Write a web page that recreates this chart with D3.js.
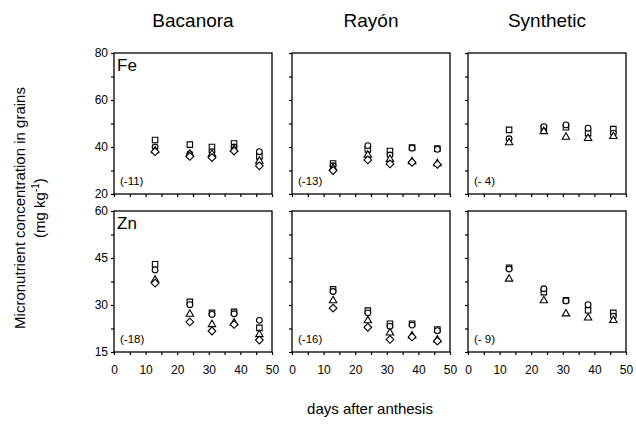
<!doctype html>
<html lang="en">
<head>
<meta charset="utf-8">
<title>Micronutrient concentration in grains</title>
<script src="https://cdn.jsdelivr.net/npm/d3@7"></script>
<style>
  body { margin: 0; background: #fff; }
  text { font-family: Arial, "Liberation Sans", sans-serif; fill: #000; }
</style>
</head>
<body>
<div id="chart"></div>
<script>
// days after anthesis
var days = [13, 24, 31, 38, 46];
var cultivars = ["Bacanora", "Rayón", "Synthetic"];
var nutrients = ["Fe", "Zn"];
var shapes = ["square", "circle", "triangle", "diamond"];

// Fe (mg kg-1), one array per marker
var feBacanora = [[43, 41, 40, 41.5, 36], [40, 37, 38, 40, 38], [38.5, 37, 37, 39, 34], [38, 36, 35.5, 38.3, 32]];
var feRayon = [[33, 39, 38.3, 39.8, 39.3], [32, 40.6, 36.6, 39.5, 39], [31, 36.6, 34.8, 33.8, 33], [30, 34.5, 32.8, 33.5, 32.6]];
var feSynthetic = [[47.3, 48, 48.4, 45.9, 47.6], [43.5, 48.7, 49.4, 48, 45.9], [41.9, 46.6, 44.2, 43.7, 44.5]];
// Zn (mg kg-1)
var znBacanora = [[43, 31, 27.5, 27.8, 22.7], [41.2, 30.1, 27, 27.2, 25.1], [38, 27.1, 23.8, 24.3, 20.6], [37, 24.6, 21.7, 23.8, 18.8]];
var znRayon = [[35, 28.2, 24, 24, 22.2], [34.3, 27.5, 23.2, 23.6, 21.8], [31.4, 25, 21.1, 20.2, 18.9], [29, 22.9, 19, 19.8, 18.5]];
var znSynthetic = [[41.9, 34.1, 31.5, 28.3, 27.5], [41.5, 35.2, 31.3, 30.1, 26.4], [38.3, 31.4, 27.2, 25.9, 25.1]];

var notes = [["(-11)", "(-13)", "(- 4)"], ["(-18)", "(-16)", "(- 9)"]];
var panelData = [[feBacanora, feRayon, feSynthetic], [znBacanora, znRayon, znSynthetic]];

var yDomains = [[20, 80], [15, 60]];
var yTicks = [[20, 30, 40, 50, 60, 70, 80], [15, 22.5, 30, 37.5, 45, 52.5, 60]];
var yLabels = [[20, 40, 60, 80], [15, 30, 45, 60]];
var xTicks = [0, 5, 10, 15, 20, 25, 30, 35, 40, 45, 50];
var xLabels = [0, 10, 20, 30, 40, 50];

var W = 636, H = 432;
var lefts = [114, 292, 468], tops = [53, 211];
var pw = 158, ph = 141;

var svg = d3.select("#chart").append("svg")
  .attr("width", W).attr("height", H);

var x = d3.scaleLinear().domain([0, 50]).range([0, pw]);

// diamond a bit wider than d3's own
var rhombus = {
  draw: function(ctx, size) {
    var r = Math.sqrt(size / 2);
    ctx.moveTo(0, -r); ctx.lineTo(r, 0); ctx.lineTo(0, r); ctx.lineTo(-r, 0); ctx.closePath();
  }
};
var symbolFor = {
  square: d3.symbol().type(d3.symbolSquare).size(30)(),
  circle: d3.symbol().type(d3.symbolCircle).size(26)(),
  triangle: d3.symbol().type(d3.symbolTriangle).size(24)(),
  diamond: d3.symbol().type(rhombus).size(30)()
};

nutrients.forEach(function(nut, r) {
  var y = d3.scaleLinear().domain(yDomains[r]).range([ph, 0]);
  cultivars.forEach(function(cv, c) {
    var g = svg.append("g")
      .attr("transform", "translate(" + lefts[c] + "," + tops[r] + ")");

    // axes
    var ya = g.append("g").call(d3.axisLeft(y).tickValues(yTicks[r]).tickSize(3).tickPadding(3)
      .tickFormat(function(v) { return (c === 0 && yLabels[r].indexOf(v) >= 0) ? v : ""; }));
    var xa = g.append("g").attr("transform", "translate(0," + ph + ")")
      .call(d3.axisBottom(x).tickValues(xTicks).tickSize(3).tickPadding(10)
        .tickFormat(function(v) { return (r === 1 && xLabels.indexOf(v) >= 0) ? v : ""; }));
    [ya, xa].forEach(function(a) {
      a.select(".domain").remove();
      a.selectAll("line").attr("stroke", "#000").attr("stroke-width", 1.2);
      a.selectAll("text").style("font-size", "12px").attr("fill", "#000");
    });

    g.append("rect")
      .attr("width", pw).attr("height", ph)
      .attr("fill", "none").attr("stroke", "#000").attr("stroke-width", 1.3);

    if (c === 0) {
      g.append("text").attr("x", 3).attr("y", 18)
        .style("font-size", "17px").text(nut);
    }
    g.append("text").attr("x", 6).attr("y", ph - 9)
      .style("font-size", "11.5px").text(notes[r][c]);

    // points
    panelData[r][c].forEach(function(vals, s) {
      g.selectAll(".p" + s).data(vals).enter().append("path")
        .attr("class", "p" + s)
        .attr("d", symbolFor[shapes[s]])
        .attr("transform", function(d, i) { return "translate(" + x(days[i]) + "," + y(d) + ")"; })
        .attr("fill", "#fff").attr("stroke", "#000").attr("stroke-width", 1.1);
    });
  });
});

// column titles
cultivars.forEach(function(cv, c) {
  svg.append("text").attr("x", lefts[c] + pw / 2).attr("y", 27)
    .attr("text-anchor", "middle").style("font-size", "19px").text(cv);
});

// y axis title
var yt = svg.append("g").attr("transform", "translate(25,208) rotate(-90)");
yt.append("text").attr("text-anchor", "middle").style("font-size", "15px")
  .text("Micronutrient concentration in grains");
var t2 = yt.append("text").attr("y", 20).attr("text-anchor", "middle").style("font-size", "15px");
t2.append("tspan").text("(mg kg");
t2.append("tspan").attr("dy", -6).style("font-size", "10px").text("-1");
t2.append("tspan").attr("dy", 6).text(")");

// x axis title
svg.append("text").attr("x", 370).attr("y", 414)
  .attr("text-anchor", "middle").style("font-size", "15px").text("days after anthesis");
</script>
</body>
</html>
